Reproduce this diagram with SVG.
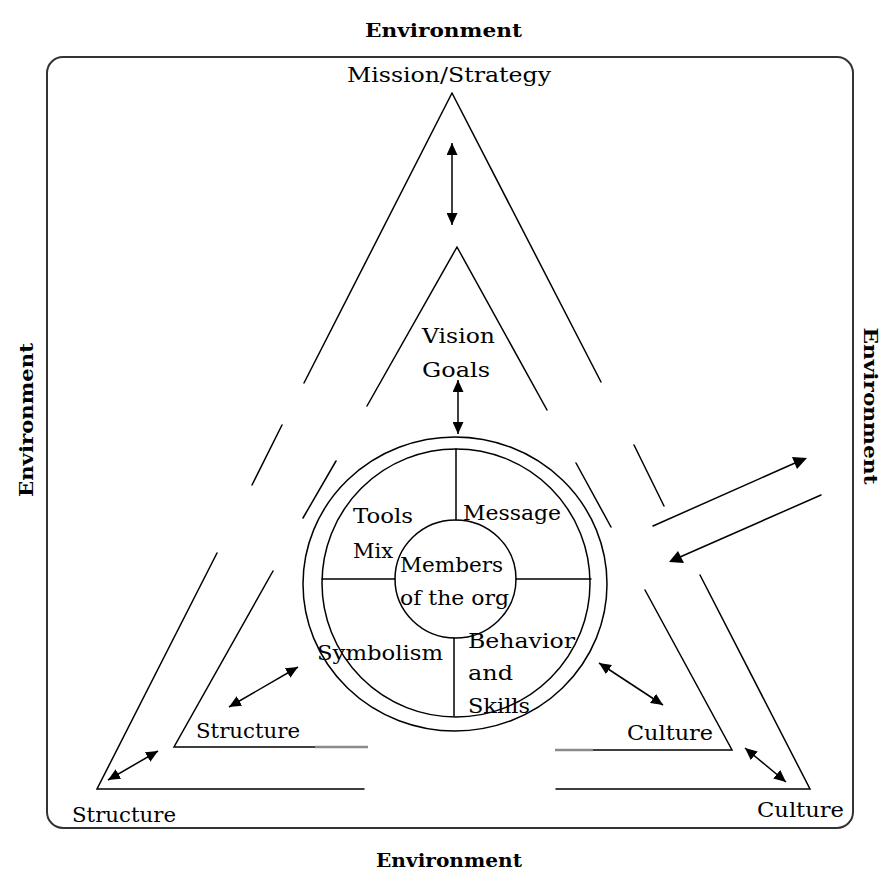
<svg xmlns="http://www.w3.org/2000/svg" width="882" height="873" viewBox="0 0 882 873">
  <style>
    .ln { fill: none; stroke: #000; stroke-width: 1.5; stroke-linecap: round; stroke-linejoin: miter; }
    .faint { fill: none; stroke: #8a8a8a; stroke-width: 2.5; }
    .frame { fill: none; stroke: #333; stroke-width: 2; }
    .lbl { font-family: "DejaVu Serif", "Liberation Serif", serif; font-size: 20px; fill: #000; }
    .env { font-family: "DejaVu Serif", "Liberation Serif", serif; font-size: 19px; font-weight: bold; fill: #000; }
    .arr { fill: none; stroke: #000; stroke-width: 1.5; marker-start: url(#head); marker-end: url(#head); }
  </style>
  <defs>
    <marker id="head" markerUnits="userSpaceOnUse" markerWidth="12" markerHeight="11" refX="12" refY="5.5" orient="auto-start-reverse">
      <path d="M0,0 L12,5.5 L0,11 z" fill="#000"/>
    </marker>
  </defs>

  <rect width="882" height="873" fill="#fff"/>

  <!-- environment frame and its labels -->
  <g id="environment">
    <rect class="frame" x="47" y="57" width="806" height="771" rx="16" ry="16"/>
    <text class="env" x="365" y="37" textLength="157" lengthAdjust="spacingAndGlyphs">Environment</text>
    <text class="env" x="376" y="867" textLength="146" lengthAdjust="spacingAndGlyphs">Environment</text>
    <text class="env" transform="translate(33,420) rotate(-90)" text-anchor="middle" textLength="154" lengthAdjust="spacingAndGlyphs">Environment</text>
    <text class="env" transform="translate(864,406) rotate(90)" text-anchor="middle" textLength="157" lengthAdjust="spacingAndGlyphs">Environment</text>
  </g>

  <!-- outer triangle: Mission/Strategy and Structure/Culture corners -->
  <g id="outer-triangle">
    <path class="ln" d="M452,93 L304,383 M282,425 L252,485 M217,553 L97,789 L364,789 M556,789 L810,789 L700,575 M664,506 L634,445 M601,382 L452,93"/>
    <text class="lbl" x="347" y="82" textLength="204" lengthAdjust="spacingAndGlyphs">Mission/Strategy</text>
    <text class="lbl" x="72" y="822" textLength="104" lengthAdjust="spacingAndGlyphs">Structure</text>
    <text class="lbl" x="757" y="817" textLength="87" lengthAdjust="spacingAndGlyphs">Culture</text>
  </g>

  <!-- inner triangle: Vision/Goals and Structure/Culture corners -->
  <g id="inner-triangle">
    <path class="ln" d="M457,247 L367,406 M336,461 L303,518 M273,571 L174,747 L315,747 M593,750 L732,750 L645,590 M611,527 L576,463 M547,410 L457,247"/>
    <path class="faint" d="M315,747 L368,747 M555,750 L593,750"/>
    <text class="lbl" x="422" y="343" textLength="73" lengthAdjust="spacingAndGlyphs">Vision</text>
    <text class="lbl" x="422" y="377" textLength="68" lengthAdjust="spacingAndGlyphs">Goals</text>
    <text class="lbl" x="196" y="738" textLength="104" lengthAdjust="spacingAndGlyphs">Structure</text>
    <text class="lbl" x="627" y="740" textLength="86" lengthAdjust="spacingAndGlyphs">Culture</text>
  </g>

  <!-- communication wheel -->
  <g id="wheel">
    <ellipse class="ln" cx="455" cy="584" rx="152" ry="147"/>
    <circle class="ln" cx="456" cy="583" r="134"/>
    <path class="ln" d="M456,449 L456,520 M454,638 L454,716 M322,579 L395,579 M516,579 L591,579"/>
    <text class="lbl" x="353" y="523" textLength="60" lengthAdjust="spacingAndGlyphs">Tools</text>
    <text class="lbl" x="353" y="558" textLength="40" lengthAdjust="spacingAndGlyphs">Mix</text>
    <text class="lbl" x="463" y="520" textLength="98" lengthAdjust="spacingAndGlyphs">Message</text>
    <text class="lbl" x="317" y="660" textLength="126" lengthAdjust="spacingAndGlyphs">Symbolism</text>
    <text class="lbl" x="468" y="648" textLength="107" lengthAdjust="spacingAndGlyphs">Behavior</text>
    <text class="lbl" x="468" y="680" textLength="45" lengthAdjust="spacingAndGlyphs">and</text>
    <text class="lbl" x="468" y="713" textLength="62" lengthAdjust="spacingAndGlyphs">Skills</text>
  </g>

  <g id="members">
    <ellipse class="ln" cx="455.5" cy="579" rx="60.5" ry="59"/>
    <text class="lbl" x="400" y="572" textLength="103" lengthAdjust="spacingAndGlyphs">Members</text>
    <text class="lbl" x="400" y="605" textLength="109" lengthAdjust="spacingAndGlyphs">of the org</text>
  </g>

  <!-- two-way links -->
  <g id="connectors">
    <line class="arr" x1="452" y1="143" x2="452" y2="225"/>
    <line class="arr" x1="458" y1="380" x2="458" y2="434"/>
    <line class="arr" x1="229" y1="707" x2="298" y2="667"/>
    <line class="arr" x1="108" y1="780" x2="158" y2="751"/>
    <line class="arr" x1="599" y1="663" x2="663" y2="705"/>
    <line class="arr" x1="745" y1="748" x2="786" y2="782"/>
    <line class="ln" x1="653" y1="526" x2="795" y2="463"/>
    <path d="M807,458 L792,457 L797,469 z" fill="#000"/>
    <line class="ln" x1="821" y1="495" x2="680" y2="557"/>
    <path d="M669,562 L678,551 L684,563 z" fill="#000"/>
  </g>
</svg>
